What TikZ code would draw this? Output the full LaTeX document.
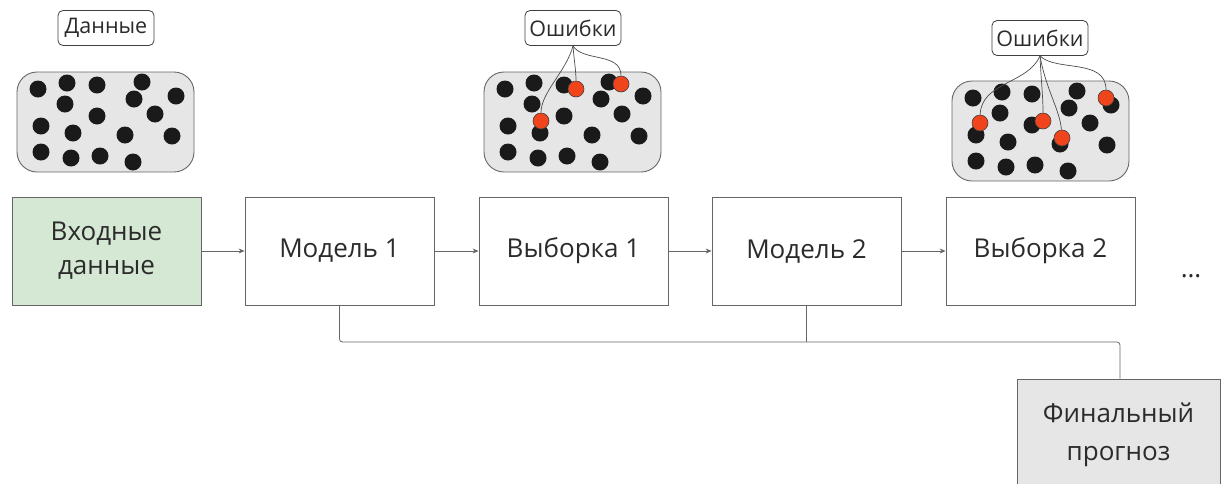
\documentclass[tikz,border=0pt]{standalone}
\usepackage{fontspec}
\setmainfont{Open Sans}
\usetikzlibrary{arrows.meta}
\definecolor{dotc}{HTML}{1A1A1A}
\definecolor{redc}{HTML}{F0441C}
\definecolor{poolgray}{HTML}{E6E6E6}
\definecolor{finalgray}{HTML}{E6E6E6}
\definecolor{greenfill}{HTML}{D5E8D4}
\definecolor{linec}{HTML}{666666}
\definecolor{txt}{HTML}{2B2B2B}
\begin{document}
\begin{tikzpicture}[x=1pt,y=-1pt,
  stage/.style={draw=linec, line width=0.8pt, minimum width=189pt, minimum height=108pt, align=center, font=\fontsize{26}{34}\selectfont, text=txt, inner sep=0pt},
  tag/.style={draw=black!75, rounded corners=5pt, fill=white, font=\fontsize{21.5}{24}\selectfont, text=txt, minimum width=96pt, minimum height=35pt, inner sep=0pt, line width=0.8pt},
  pool/.style={draw=linec, fill=poolgray, rounded corners=20pt, line width=0.9pt},
  blk/.style={fill=dotc, circle, minimum size=17pt, inner sep=0pt},
  err/.style={fill=redc, draw=black!75, circle, minimum size=16pt, inner sep=0pt, line width=0.6pt},
  flow/.style={draw=linec, line width=0.8pt, -{Stealth[length=6pt,width=5pt]}},
  wire/.style={draw=linec, line width=0.8pt},
  link/.style={draw=black!70, line width=0.7pt},
]
\useasboundingbox (0,0) rectangle (1221,483);

% data pools
\foreach \dx/\dy/\w in {0/0/1, 467/0/2, 935/9/3}{
  \begin{scope}[shift={(\dx,\dy)}]
    \draw[pool] (17,72) rectangle (194,172);
    \foreach \px/\py in {38/89, 67/83, 97/85, 142/82, 134/99, 176/96, 65/104, 97/116, 155/114, 41/126, 73/133, 125/135, 172/136, 41/152, 71/158, 100/156, 133/162}
      \node[blk] at (\px,\py) {};
  \end{scope}
}

% labels
\node[tag] (data) at (106,28) {Данные};
\node[tag] (errA) at (573,28) {Ошибки};
\node[tag] (errB) at (1040,38) {Ошибки};

% error dots, group 1
\node[err] (a1) at (541,121) {};
\node[err] (a2) at (576,89) {};
\node[err] (a3) at (621,84) {};
\draw[link] (errA.south) .. controls (566,72) and (541,92) .. (a1);
\draw[link] (errA.south) .. controls (574,60) and (576,70) .. (a2);
\draw[link] (errA.south) .. controls (583,62) and (621,52) .. (a3);

% error dots, group 2
\node[err] (b1) at (980,123) {};
\node[err] (b2) at (1043,121) {};
\node[err] (b3) at (1062,138) {};
\node[err] (b4) at (1106,98) {};
\draw[link] (errB.south) .. controls (1028,84) and (981,82) .. (b1);
\draw[link] (errB.south) .. controls (1041,80) and (1043,95) .. (b2);
\draw[link] (errB.south) .. controls (1046,90) and (1060,110) .. (b3);
\draw[link] (errB.south) .. controls (1056,72) and (1106,58) .. (b4);

% main chain
\node[stage, fill=greenfill] (in) at (106.5,251) {Входные\\данные};
\node[stage] (m1) at (339.5,251) {Модель 1};
\node[stage] (s1) at (573.5,251) {Выборка 1};
\node[stage] (m2) at (806.5,251) {Модель 2};
\node[stage] (s2) at (1040.5,251) {Выборка 2};
\node[font=\fontsize{26}{30}\selectfont, text=txt, anchor=base, inner sep=0pt] (dots) at (1191,277) {…};

\draw[flow] (in) -- (m1);
\draw[flow] (m1) -- (s1);
\draw[flow] (s1) -- (m2);
\draw[flow] (m2) -- (s2);

% final
\begin{scope}
  \clip (0,0) rectangle (1221,483);
  \node[stage, fill=finalgray, minimum width=203pt, minimum height=112pt, font=\fontsize{26}{38}\selectfont] (fin) at (1118.5,435) {Финальный\\прогноз};
\end{scope}
\coordinate (j) at (1120,342);
\draw[wire, rounded corners=3pt] (m1.south) |- (j) -- (fin.north -| j);
\draw[wire, rounded corners=2pt] (m2.south) -- (m2.south |- j);
\end{tikzpicture}
\end{document}
